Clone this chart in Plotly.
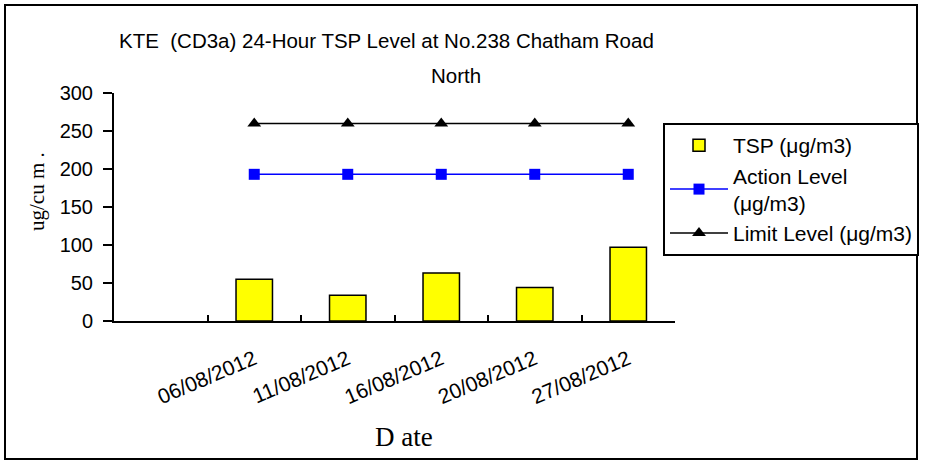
import plotly.graph_objects as go

# chart data (first category is an empty slot, as in the original sheet)
dates = [" ", "06/08/2012", "11/08/2012", "16/08/2012", "20/08/2012", "27/08/2012"]
tsp = [None, 55, 34, 63, 44, 97]
action_level = [None, 193, 193, 193, 193, 193]
limit_level = [None, 260, 260, 260, 260, 260]
y_ticks = [0, 50, 100, 150, 200, 250, 300]

# page geometry (pixels)
W, H = 927, 461
L, R, T, B = 114, 252, 93, 140
PW = W - L - R
PH = H - T - B


def px_x(x):
    return (x - L) / PW


def px_y(y):
    return (H - B - y) / PH


sans = "Liberation Sans, Arial, sans-serif"
serif = "Liberation Serif, Times New Roman, serif"

fig = go.Figure()
fig.add_trace(go.Bar(
    x=dates, y=tsp, name="TSP (μg/m3)",
    marker=dict(color="#FFFF00", line=dict(color="black", width=1.5)),
))
fig.add_trace(go.Scatter(
    x=dates, y=action_level, name="Action Level<br>(μg/m3)", mode="lines+markers",
    line=dict(color="#0000FF", width=1.5),
    marker=dict(symbol="square", size=11, color="#0000FF"),
))
fig.add_trace(go.Scatter(
    x=dates, y=limit_level, name="Limit Level (μg/m3)", mode="lines+markers",
    line=dict(color="black", width=1.5),
    marker=dict(symbol="triangle-up", size=12, color="black"),
))

fig.update_layout(
    width=W, height=H,
    margin=dict(l=L, r=R, t=T, b=B, autoexpand=False),
    paper_bgcolor="white", plot_bgcolor="white",
    font=dict(family=sans, size=20, color="black"),
    bargap=0.61,
    showlegend=True,
    legend=dict(
        x=px_x(663), y=px_y(123), xanchor="left", yanchor="top",
        bordercolor="black", borderwidth=2, bgcolor="white",
        font=dict(family=sans, size=21), tracegroupgap=0,
        itemwidth=58,
    ),
)

fig.update_xaxes(
    type="category", range=[-0.5, len(dates) - 0.5],
    showline=True, linecolor="black", linewidth=2,
    ticks="inside", ticklen=6, tickwidth=2, tickcolor="black",
    tickson="boundaries", tickangle=-23, ticklabelstandoff=16,
    tickfont=dict(family=sans, size=21),
    showgrid=False, zeroline=False,
)
fig.update_yaxes(
    range=[0, 300], tickvals=y_ticks,
    showline=True, linecolor="black", linewidth=2,
    ticks="outside", ticklen=9, tickwidth=2, tickcolor="black",
    tickfont=dict(family=sans, size=20), ticklabelstandoff=6,
    showgrid=False, zeroline=False,
)

# titles
fig.add_annotation(text="KTE  (CD3a) 24-Hour TSP Level at No.238 Chatham Road",
                   x=px_x(386), y=px_y(41), xref="paper", yref="paper",
                   showarrow=False, xanchor="center", yanchor="middle",
                   font=dict(family=sans, size=20.5))
fig.add_annotation(text="North",
                   x=px_x(456), y=px_y(75), xref="paper", yref="paper",
                   showarrow=False, xanchor="center", yanchor="middle",
                   font=dict(family=sans, size=20.5))
fig.add_annotation(text="ug/cu m .",
                   x=px_x(37), y=px_y(192), xref="paper", yref="paper",
                   showarrow=False, xanchor="center", yanchor="middle", textangle=-90,
                   font=dict(family=serif, size=21))
fig.add_annotation(text="D ate",
                   x=px_x(404), y=px_y(437), xref="paper", yref="paper",
                   showarrow=False, xanchor="center", yanchor="middle",
                   font=dict(family=serif, size=27))

# outer frame
fig.add_shape(type="rect", xref="paper", yref="paper",
              x0=px_x(5), x1=px_x(917), y0=px_y(459), y1=px_y(5),
              line=dict(color="black", width=2), layer="above")

# drop the browser's default body margin so the figure sits at the page origin
fig.write_html("out.html", config={"displayModeBar": False},
               post_script="document.body.style.margin='0';")
